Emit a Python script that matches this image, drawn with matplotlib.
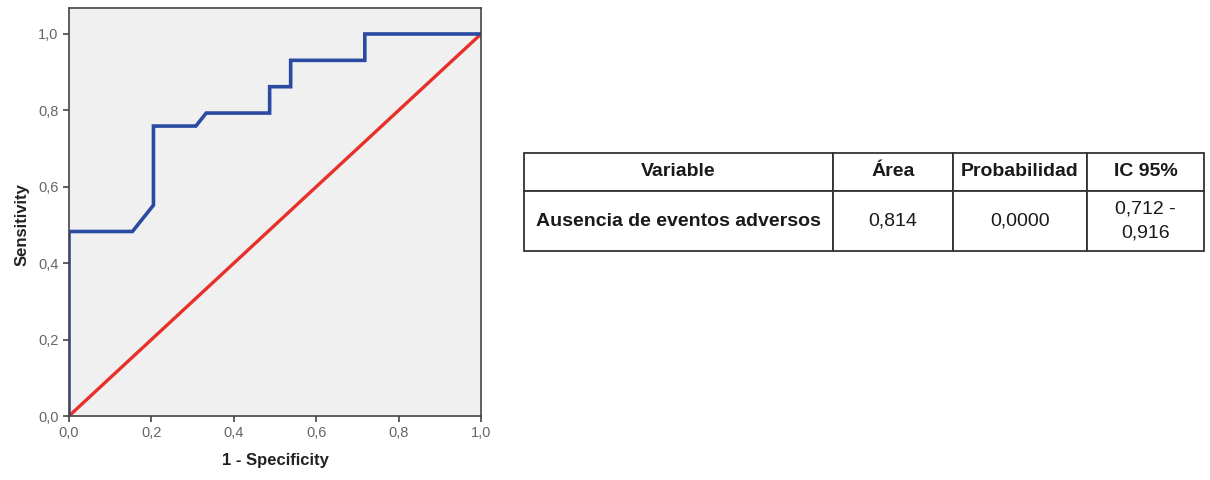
import matplotlib.pyplot as plt
from matplotlib import font_manager

# ROC curve points (1 - specificity, sensitivity)
fpr = [0.0, 0.0, 0.154, 0.205, 0.205, 0.308, 0.333, 0.487, 0.487, 0.538, 0.538, 0.718, 0.718, 1.0]
tpr = [0.0, 0.483, 0.483, 0.552, 0.759, 0.759, 0.793, 0.793, 0.862, 0.862, 0.931, 0.931, 1.0, 1.0]
ref_line = [0.0, 1.0]

ticks = [0.0, 0.2, 0.4, 0.6, 0.8, 1.0]
tick_labels = ['0,0', '0,2', '0,4', '0,6', '0,8', '1,0']

# table contents
headers = ['Variable', 'Área', 'Probabilidad', 'IC 95%']
row = ['Ausencia de eventos adversos', '0,814', '0,0000', '0,712 -\n0,916']

installed = {f.name for f in font_manager.fontManager.ttflist}
narrow = 'Liberation Sans Narrow' if 'Liberation Sans Narrow' in installed else 'Liberation Sans'

plt.rcParams['font.family'] = ['Liberation Sans', 'DejaVu Sans']

fig = plt.figure(figsize=(12.1, 4.8), dpi=100)

# ROC plot
ax = fig.add_axes([69 / 1210, 64 / 480, 412 / 1210, 408 / 480])
ax.set_facecolor('#f0f0f0')
ax.plot(ref_line, ref_line, color='#e8302b', lw=2.4, solid_capstyle='butt')
ax.plot(fpr, tpr, color='#2b4ba3', lw=2.6, solid_joinstyle='miter')
ax.set_xlim(0, 1)
ax.set_ylim(0, 1.068)
ax.set_xticks(ticks)
ax.set_xticklabels(tick_labels)
ax.set_yticks(ticks)
ax.set_yticklabels(tick_labels)
ax.tick_params(colors='#444444', labelcolor='#666666', labelsize=10.5, length=4, width=1.2)
for s in ax.spines.values():
    s.set_color('#444444')
    s.set_linewidth(1.2)
ax.set_xlabel('1 - Specificity', fontsize=12, fontweight='bold', color='#222222', labelpad=9)
ax.set_ylabel('Sensitivity', fontsize=12, fontweight='bold', color='#222222', labelpad=6)
ax.yaxis.set_label_coords(-0.095, 0.5 / 1.068)

# results table
tax = fig.add_axes([524 / 1210, (480 - 251) / 480, 680 / 1210, 98 / 480])
tax.axis('off')
col_w = [309, 120, 134, 117]
tbl = tax.table(cellText=[row], colLabels=headers, colWidths=[w / 680 for w in col_w],
                cellLoc='center', bbox=[0, 0, 1, 1])
tbl.auto_set_font_size(False)
for (r, c), cell in tbl.get_celld().items():
    cell.set_height(38 if r == 0 else 60)
    cell.set_edgecolor('#333333')
    cell.set_linewidth(1.3)
    txt = cell.get_text()
    txt.set_fontsize(14)
    txt.set_family([narrow, 'DejaVu Sans'])
    txt.set_color('#1a1a1a')
    txt.set_linespacing(1.5)
    if r == 0 or c == 0:
        txt.set_fontweight('bold')

fig.savefig('out.png', dpi=100)
